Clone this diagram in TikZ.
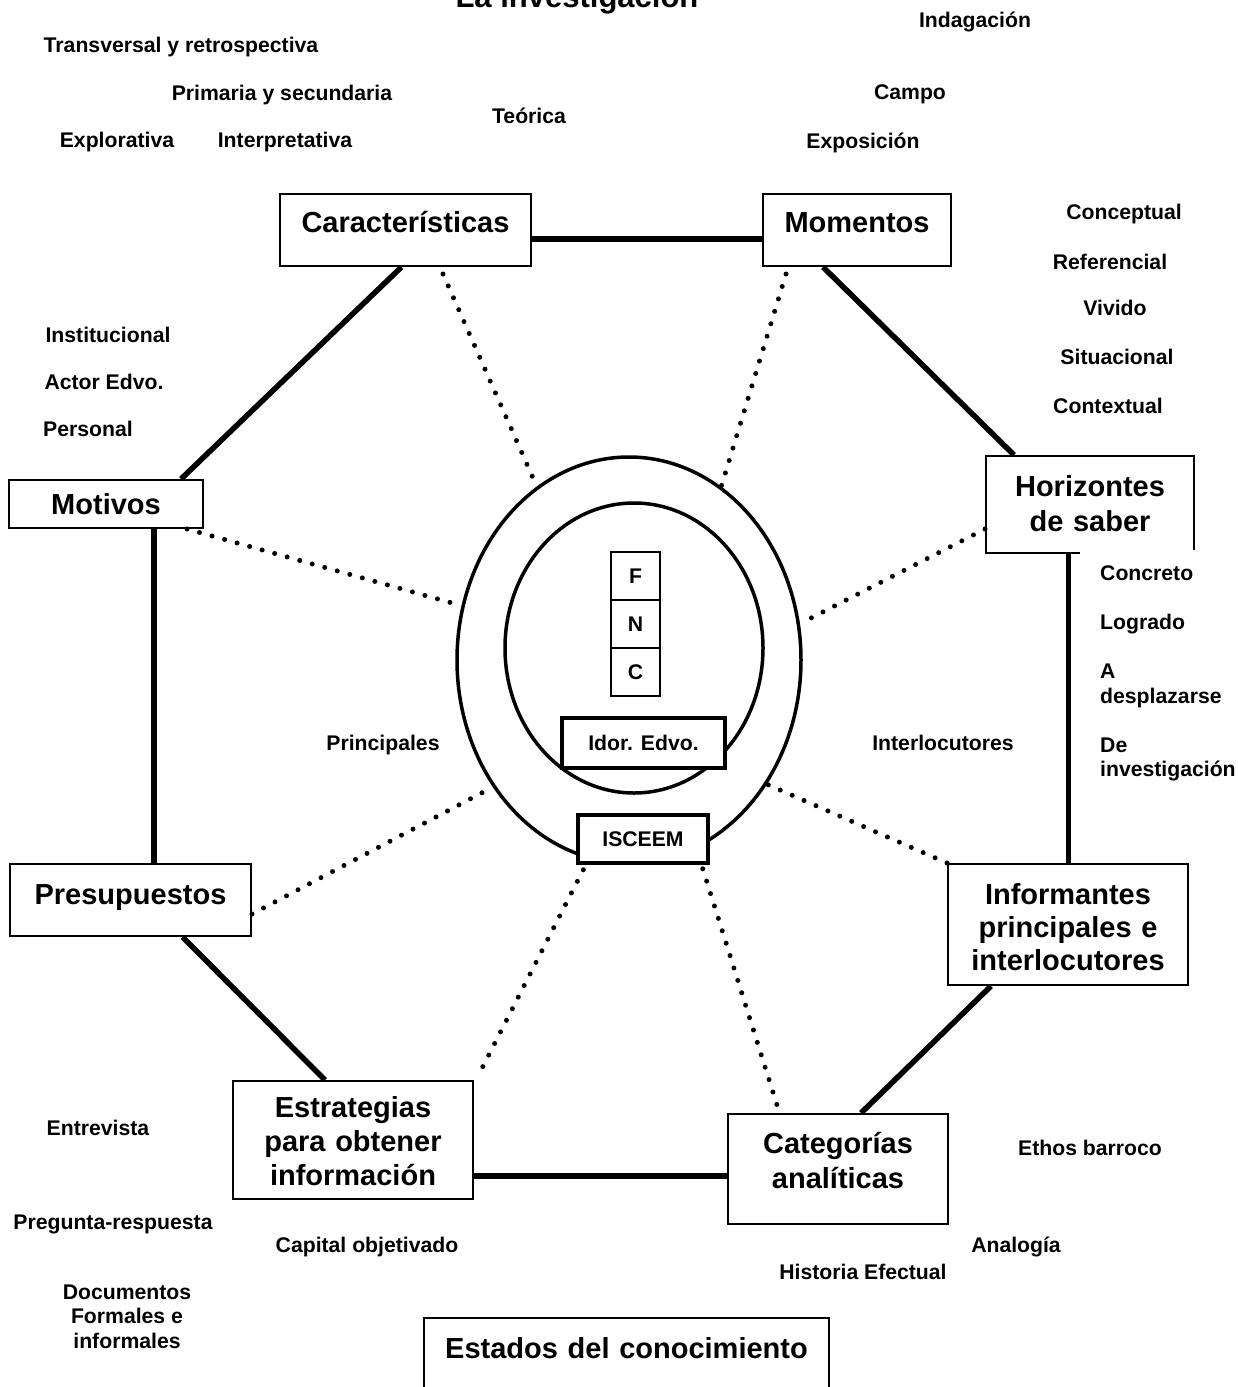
\documentclass[tikz,border=0pt]{standalone}
\usepackage{fontspec}
\setmainfont{Liberation Sans}
\usetikzlibrary{calc,shapes.geometric}
\newcommand\lblfont{\fontsize{21.2}{24.5}\selectfont\bfseries}
\newcommand\boxfont{\fontsize{29}{34}\selectfont\bfseries}
\newcommand\titlefont{\fontsize{31}{36}\selectfont\bfseries}

\begin{document}
\begin{tikzpicture}[x=1pt,y=-1pt,
  tbox/.style={draw, line width=2pt, fill=white, inner sep=0pt, align=center,
               anchor=north west, font=\boxfont},
  smallbox/.style={draw, fill=white, inner sep=0pt, font=\lblfont},
  lbl/.style={anchor=base, inner sep=0pt, font=\lblfont},
  solidlink/.style={line width=5.5pt},
  dotlink/.style={line width=5pt, line cap=round, dash pattern=on 0pt off 13pt},
  ring/.style={ellipse, draw, line width=3.5pt, inner sep=0pt}]
\useasboundingbox (0,0) rectangle (1238,1387);

% title
\node[anchor=base, font=\titlefont, inner sep=0pt] (title) at (577,7) {La investigación};

% central rings
\node[ring, minimum width=344pt, minimum height=406pt] (outer) at (629,660) {};
\node[ring, minimum width=258pt, minimum height=290pt] (inner) at (634,648) {};

% stacked F / N / C
\node[smallbox, line width=2pt, minimum width=49pt, minimum height=48pt] (f) at (635.5,576) {F};
\node[smallbox, line width=2pt, minimum width=49pt, minimum height=48pt] (n) at (635.5,624) {N};
\node[smallbox, line width=2pt, minimum width=49pt, minimum height=48pt] (c) at (635.5,672) {C};

\node[smallbox, line width=3.5pt, minimum width=163pt, minimum height=50pt] (idor) at (643.5,743) {Idor. Edvo.};
\node[smallbox, line width=3.5pt, minimum width=130pt, minimum height=48pt] (isc) at (643,839) {ISCEEM};

% main boxes of the octagon
\node[tbox, text width=251pt, text height=38pt, text depth=34pt] (car) at (279,193) {Características};
\node[tbox, text width=188pt, text height=38pt, text depth=34pt] (mom) at (762,193) {Momentos};
\node[tbox, text width=208pt, text height=40pt, text depth=57pt,
      font={\fontsize{29}{35}\selectfont\bfseries}] (hor) at (985,455) {Horizontes\\de saber};
\node[tbox, text width=194pt, text height=34pt, text depth=14pt] (mot) at (8,479) {Motivos};
\node[tbox, text width=241pt, text height=40pt, text depth=32pt] (pre) at (9,863) {Presupuestos};
\node[tbox, text width=240pt, text height=36pt, text depth=82pt] (est) at (232,1080) {Estrategias\\para obtener\\información};
\node[tbox, text width=220pt, text height=39pt, text depth=71pt,
      font={\fontsize{29}{35}\selectfont\bfseries}] (cat) at (727,1113) {Categorías\\analíticas};
\node[tbox, text width=240pt, text height=40pt, text depth=81pt,
      font={\fontsize{29}{33}\selectfont\bfseries}] (inf) at (947,863) {Informantes\\principales e\\interlocutores};
\node[tbox, text width=405pt, text height=40pt, text depth=83pt] (edo) at (423,1317) {Estados del conocimiento};

% solid octagon sides
\draw[solidlink] ($(car.east)+(0,9)$) -- ($(mom.west)+(0,9)$);
\draw[solidlink] ($(car.south)+(-4,0)$) -- ($(mot.north)+(75,0)$);
\draw[solidlink] ($(mom.south)+(-34,0)$) -- ($(hor.north)+(-76,0)$);
\draw[solidlink] ($(mot.south)+(48,0)$) -- ($(pre.north)+(23.5,0)$);
\draw[solidlink] ($(hor.south)+(-21.5,0)$) -- ($(inf.north)+(0.5,0)$);
\draw[solidlink] ($(pre.south)+(52,0)$) -- ($(est.north)+(-28,0)$);
\draw[solidlink] ($(est.east)+(0,36)$) -- ($(cat.west)+(0,7)$);
\draw[solidlink] ($(inf.south)+(-77,0)$) -- ($(cat.north)+(23,0)$);

% dotted spokes
\draw[dotlink] ($(car.south west)+(164,7)$) -- (outer.118.6);
\draw[dotlink] ($(mom.south west)+(24,7)$) -- (outer.62.8);
\draw[dotlink] ($(mot.south east)+(-17,0)$) -- (outer.162.4);
\draw[dotlink] ($(hor.south west)+(0,-25)$) -- (outer.12.2);
\draw[dotlink] ($(pre.south east)+(0,-23)$) -- (outer.223.1);
\draw[dotlink] (inf.north west) -- (outer.318.8);
\draw[dotlink] ($(isc.south west)+(7,5)$) -- ($(est.north east)+(3,-2)$);
\draw[dotlink] ($(isc.south east)+(-7,4)$) -- ($(cat.north west)+(50,-8)$);

% list under the horizons box
\node[anchor=north west, fill=white, inner xsep=20pt, inner ysep=0pt, text width=140pt,
      align=left, font=\lblfont, text height=30.5pt] (horlist) at (1080,550)
  {Concreto\\[24.5pt]Logrado\\[24.5pt]A\\desplazarse\\[24.5pt]De\\investigación};

% loose labels
\node[lbl] (l1) at (975,27) {Indagación};
\node[lbl] (l2) at (181,52) {Transversal y retrospectiva};
\node[lbl] (l3) at (282,100) {Primaria y secundaria};
\node[lbl] (l4) at (117,147) {Explorativa};
\node[lbl] (l5) at (285,147) {Interpretativa};
\node[lbl] (l6) at (529,123) {Teórica};
\node[lbl] (l7) at (910,99) {Campo};
\node[lbl] (l8) at (863,148) {Exposición};
\node[lbl] (l9) at (1124,219) {Conceptual};
\node[lbl] (l10) at (1110,269) {Referencial};
\node[lbl] (l11) at (1115,315) {Vivido};
\node[lbl] (l12) at (1117,364) {Situacional};
\node[lbl] (l13) at (1108,413) {Contextual};
\node[lbl] (l14) at (108,342) {Institucional};
\node[lbl] (l15) at (104,389) {Actor Edvo.};
\node[lbl] (l16) at (88,436) {Personal};
\node[lbl] (l17) at (383,750) {Principales};
\node[lbl] (l18) at (943,750) {Interlocutores};
\node[lbl] (l19) at (98,1135) {Entrevista};
\node[lbl] (l20) at (113,1229) {Pregunta-respuesta};
\node[lbl, align=center] (l21) at (127,1348) {Documentos\\Formales e\\informales};
\node[lbl] (l22) at (367,1252) {Capital objetivado};
\node[lbl] (l23) at (1090,1155) {Ethos barroco};
\node[lbl] (l24) at (1016,1252) {Analogía};
\node[lbl] (l25) at (863,1279) {Historia Efectual};
\end{tikzpicture}
\end{document}
